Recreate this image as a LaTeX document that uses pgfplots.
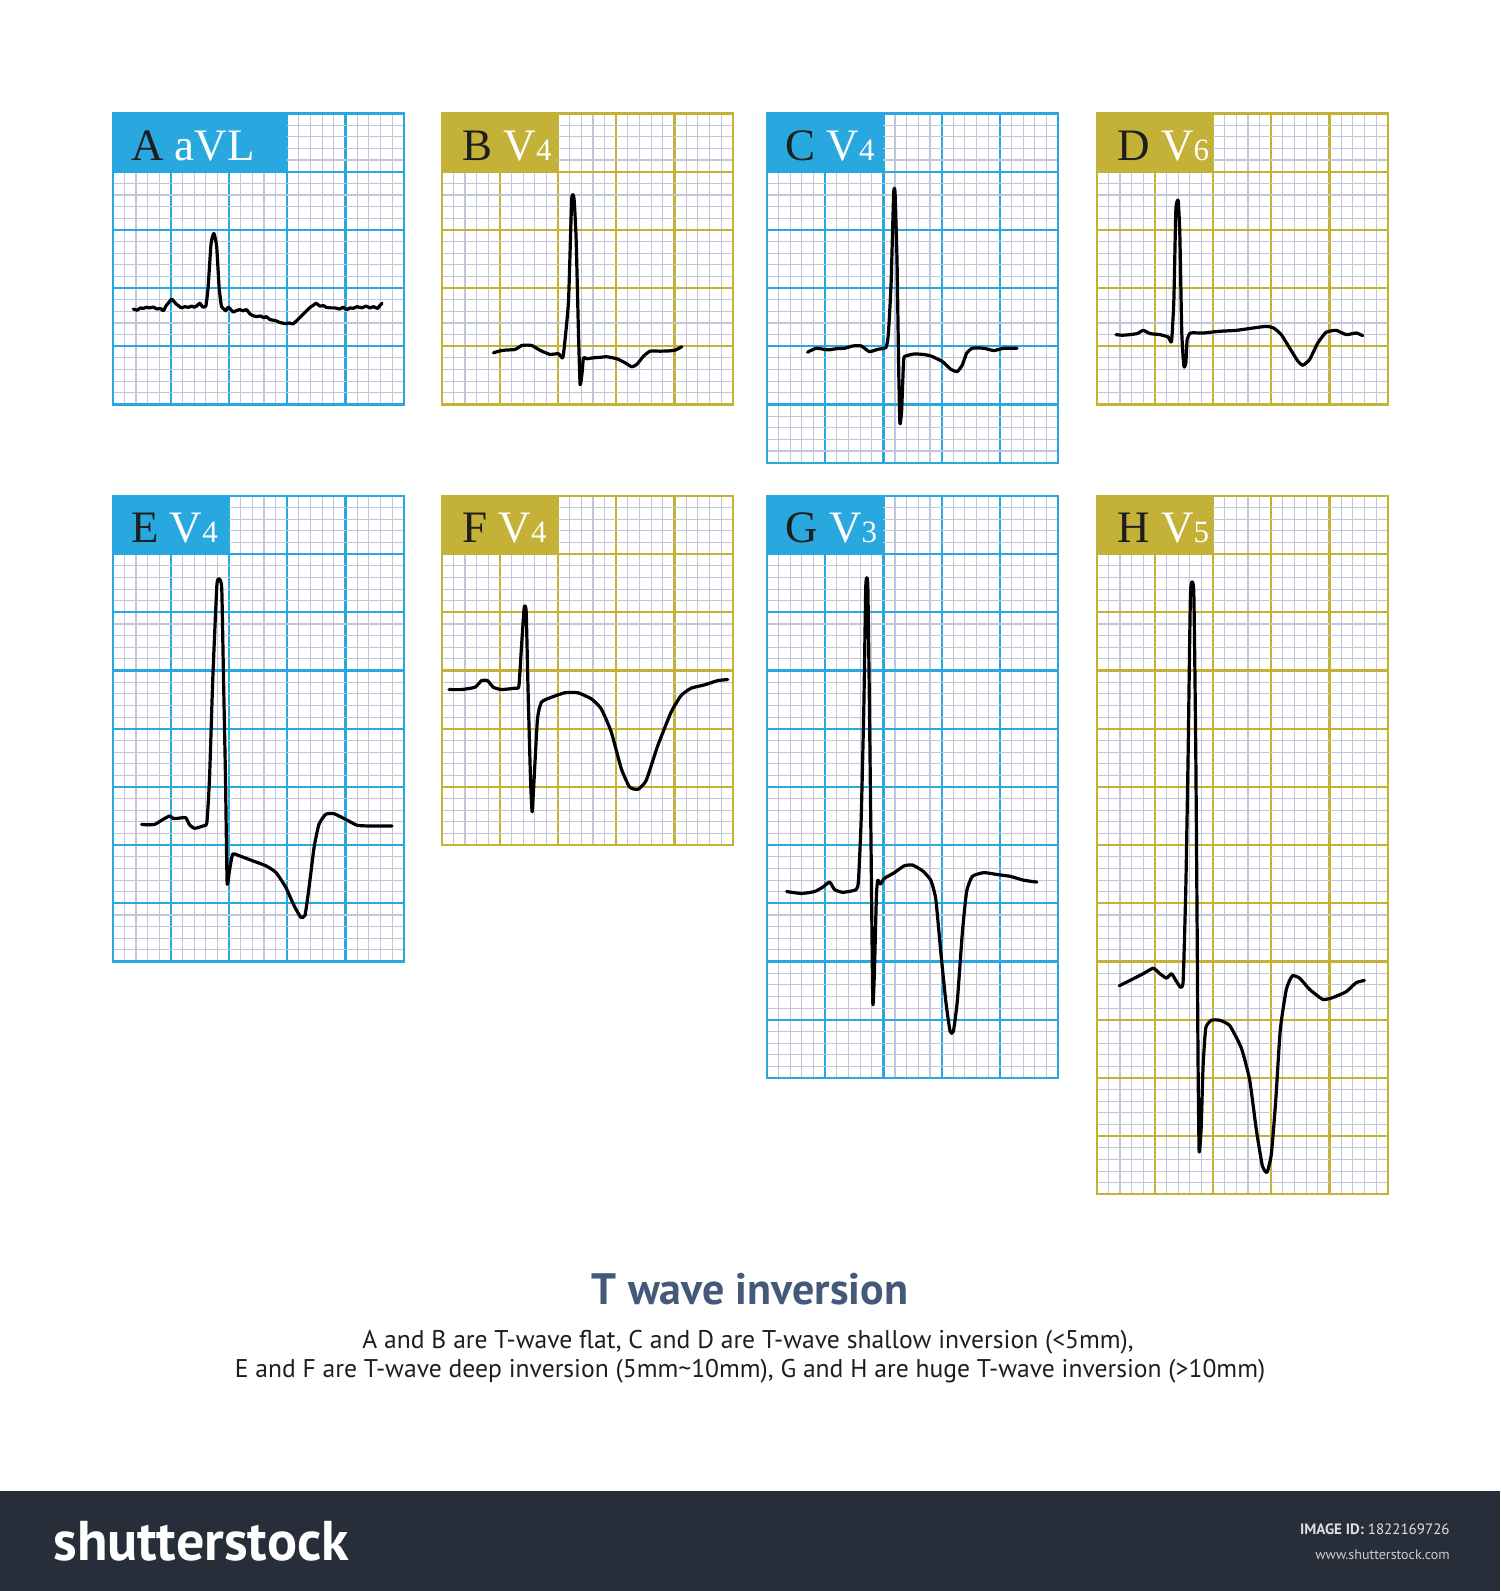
\documentclass[border=0pt]{standalone}
\usepackage{pgfplots}
\pgfplotsset{compat=1.18}
\usepackage{fontspec}
\setmainfont{PT Sans}
\newfontfamily\lserif{Liberation Serif}
\definecolor{ecgblue}{RGB}{41,168,224}
\definecolor{ecggold}{RGB}{196,177,56}
\definecolor{minorgrid}{RGB}{192,197,218}
\definecolor{titleblue}{RGB}{68,89,122}
\definecolor{footerc}{RGB}{40,46,57}
\definecolor{txt}{RGB}{30,30,30}
\pgfplotsset{
  ecgbase/.style={scale only axis, width=145.5pt, xmin=0, xmax=25, ymin=0,
    anchor=north west, xtick={0,5,10,15,20,25}, minor xtick={0,1,...,25},
    grid=both,
    minor grid style={color=minorgrid, line width=0.55pt},
    major tick length=0pt, minor tick length=0pt,
    xticklabels={}, yticklabels={}, clip=false},
  rows/.style={ymax=#1, ytick={0,5,...,#1}, minor ytick={0,1,...,#1}},
  blueecg/.style={ecgbase, major grid style={color=ecgblue, line width=1.1pt},
    axis line style={color=ecgblue, line width=1.1pt}},
  goldecg/.style={ecgbase, major grid style={color=ecggold, line width=1.1pt},
    axis line style={color=ecggold, line width=1.1pt}},
  trace/.style={black, line width=1.6pt, line join=round, line cap=round, smooth, tension=0.3},
}
\newcommand{\lab}[2]{{\lserif\fontsize{22.5pt}{22.5pt}\selectfont\color{txt}#1\ \color{white}#2}}
\newcommand{\sub}[1]{{\fontsize{15.5pt}{15.5pt}\selectfont #1}}
\begin{document}
\begin{tikzpicture}
\fill[white] (0,0) rectangle (750pt,795.5pt);
\useasboundingbox (0,0) rectangle (750pt,795.5pt);
% ---------- A
\begin{axis}[blueecg, at={(56.35pt,738.75pt)}, height=145.5pt, rows=25]
\fill[ecgblue] (axis cs:0,20) rectangle (axis cs:15,25);
\node[anchor=base west, inner sep=0] at (axis cs:1.55,21) {\lab{A}{aVL}};
\addplot[trace] coordinates {(1.77,8.2)(2.1,8.1)(2.4,8.3)(2.63,8.25)(2.9,8.35)(3.2,8.3)(3.49,8.37)(3.8,8.2)(4.1,8.25)(4.34,8.05)(4.6,8.5)(4.77,8.7)(5.06,9.05)(5.3,8.8)(5.49,8.6)(5.7,8.45)(5.91,8.3)(6.2,8.4)(6.5,8.35)(6.8,8.45)(7.0,8.35)(7.2,8.45)(7.49,8.7)(7.7,8.4)(8.0,8.45)(8.2,10.1)(8.45,13.8)(8.69,14.7)(8.93,13.6)(9.14,10.1)(9.34,8.45)(9.55,8.2)(9.71,8.05)(9.9,8.35)(10.06,8.25)(10.34,7.95)(10.6,8.05)(10.9,8.15)(11.2,8.05)(11.5,8.15)(11.77,7.8)(12.0,7.65)(12.34,7.55)(12.7,7.6)(13.0,7.45)(13.2,7.55)(13.5,7.3)(14.0,7.2)(14.34,7.05)(14.8,6.95)(15.2,7.0)(15.49,6.92)(15.8,7.2)(16.06,7.45)(16.5,7.9)(16.91,8.3)(17.2,8.5)(17.49,8.7)(17.8,8.45)(18.1,8.5)(18.34,8.35)(18.7,8.3)(19.1,8.3)(19.49,8.2)(19.8,8.35)(20.1,8.15)(20.4,8.3)(20.63,8.25)(21.0,8.4)(21.4,8.3)(21.77,8.45)(22.1,8.3)(22.4,8.4)(22.77,8.25)(22.95,8.5)(23.14,8.7)};
\end{axis}
% ---------- B
\begin{axis}[goldecg, at={(220.85pt,738.75pt)}, height=145.5pt, rows=25]
\fill[ecggold] (axis cs:0,20) rectangle (axis cs:10,25);
\node[anchor=base west, inner sep=0] at (axis cs:1.75,21) {\lab{B}{V\sub{4}}};
\addplot[trace] coordinates {(4.44,4.44)(5.0,4.6)(5.44,4.67)(6.3,4.73)(6.88,5.07)(7.3,5.1)(7.74,5.07)(8.2,4.8)(8.6,4.58)(9.31,4.3)(10.03,4.36)(10.4,4.01)(10.6,5.59)(10.9,9.0)(11.17,17.62)(11.37,17.68)(11.55,14.2)(11.75,6.16)(11.89,1.72)(12.06,2.72)(12.18,4.01)(12.46,3.93)(13.04,4.01)(13.6,4.05)(14.18,4.1)(15.04,3.93)(15.76,3.58)(16.33,3.24)(16.76,3.44)(17.34,4.15)(17.91,4.58)(18.77,4.58)(19.5,4.6)(20.06,4.67)(20.63,4.96)};
\end{axis}
% ---------- C
\begin{axis}[blueecg, at={(383.5pt,738.75pt)}, height=174.6pt, rows=30]
\fill[ecgblue] (axis cs:0,25) rectangle (axis cs:10,30);
\node[anchor=base west, inner sep=0] at (axis cs:1.55,26) {\lab{C}{V\sub{4}}};
\addplot[trace] coordinates {(3.48,9.49)(4.24,9.83)(5.24,9.69)(6.0,9.8)(6.67,9.83)(7.38,10.03)(8.09,10.03)(8.8,9.54)(9.52,9.74)(10.23,9.91)(10.43,11.11)(10.66,15.38)(10.88,23.08)(11.0,23.22)(11.17,17.38)(11.31,8.26)(11.42,3.36)(11.57,4.56)(11.74,8.83)(11.94,9.17)(12.65,9.34)(13.4,9.3)(14.07,9.17)(15.07,8.69)(15.78,8.03)(16.35,7.83)(16.78,8.4)(17.15,9.4)(17.64,9.83)(18.63,9.83)(19.49,9.63)(20.34,9.83)(21.48,9.83)};
\end{axis}
% ---------- D
\begin{axis}[goldecg, at={(548.35pt,738.75pt)}, height=145.5pt, rows=25]
\fill[ecggold] (axis cs:0,20) rectangle (axis cs:10,25);
\node[anchor=base west, inner sep=0] at (axis cs:1.75,21) {\lab{D}{V\sub{6}}};
\addplot[trace] coordinates {(1.66,6.0)(2.2,5.95)(2.86,6.0)(3.5,6.1)(4.0,6.37)(4.57,6.09)(5.43,6.0)(6.14,5.8)(6.43,5.43)(6.63,9.0)(6.8,16.71)(7.0,17.51)(7.14,14.71)(7.31,6.14)(7.49,3.29)(7.66,3.57)(7.77,5.57)(8.06,6.14)(9.14,6.14)(10.57,6.29)(12.0,6.37)(13.43,6.57)(14.57,6.71)(15.2,6.57)(15.86,6.0)(16.57,4.86)(17.29,3.71)(17.71,3.37)(18.29,3.86)(19.0,5.29)(19.71,6.2)(20.57,6.37)(21.43,6.0)(22.29,6.14)(22.86,5.91)};
\end{axis}
% ---------- E
\begin{axis}[blueecg, at={(56.35pt,547.5pt)}, height=232.8pt, rows=40]
\fill[ecgblue] (axis cs:0,35) rectangle (axis cs:10,40);
\node[anchor=base west, inner sep=0] at (axis cs:1.55,36) {\lab{E}{V\sub{4}}};
\addplot[trace] coordinates {(2.48,11.79)(3.0,11.75)(3.62,11.79)(4.33,12.22)(4.9,12.51)(5.2,12.3)(5.61,12.31)(6.27,12.36)(6.61,11.74)(7.04,11.45)(7.75,11.65)(8.09,11.94)(8.32,15.78)(8.6,24.33)(8.95,32.31)(9.17,32.88)(9.37,32.02)(9.52,24.33)(9.69,15.78)(9.83,6.81)(10.03,7.81)(10.31,9.23)(10.88,9.09)(12.02,8.66)(13.16,8.23)(14.02,7.66)(14.87,6.38)(15.58,4.81)(16.15,3.82)(16.52,3.96)(16.87,6.38)(17.3,9.8)(17.72,11.79)(18.3,12.65)(19.0,12.71)(20.0,12.22)(21.0,11.71)(22.0,11.65)(23.13,11.65)(23.99,11.65)};
\end{axis}
% ---------- F
\begin{axis}[goldecg, at={(220.85pt,547.5pt)}, height=174.6pt, rows=30]
\fill[ecggold] (axis cs:0,25) rectangle (axis cs:10,30);
\node[anchor=base west, inner sep=0] at (axis cs:1.75,26) {\lab{F}{V\sub{4}}};
\addplot[trace] coordinates {(0.63,13.37)(1.71,13.37)(2.86,13.57)(3.43,14.14)(3.94,14.14)(4.43,13.57)(5.14,13.37)(6.29,13.49)(6.63,13.66)(6.86,17.14)(7.09,20.43)(7.26,20.0)(7.43,12.86)(7.63,5.71)(7.77,2.86)(7.94,5.71)(8.23,10.86)(8.57,12.29)(9.43,12.71)(10.57,13.09)(11.71,13.09)(12.86,12.57)(13.71,11.71)(14.57,9.71)(15.43,6.57)(16.14,5.0)(16.86,4.8)(17.57,5.57)(18.57,8.57)(19.71,11.43)(20.57,12.86)(21.43,13.49)(22.57,13.77)(23.71,14.14)(24.57,14.23)};
\end{axis}
% ---------- G
\begin{axis}[blueecg, at={(383.5pt,547.5pt)}, height=291pt, rows=50]
\fill[ecgblue] (axis cs:0,45) rectangle (axis cs:10,50);
\node[anchor=base west, inner sep=0] at (axis cs:1.55,46) {\lab{G}{V\sub{3}}};
\addplot[trace] coordinates {(1.68,16.02)(2.96,15.85)(4.1,16.02)(4.81,16.41)(5.38,16.83)(5.81,16.18)(6.52,15.95)(7.66,16.18)(7.86,16.99)(8.09,22.19)(8.32,31.94)(8.49,42.33)(8.66,42.33)(8.8,31.94)(8.95,18.94)(9.09,6.43)(9.23,9.19)(9.4,15.69)(9.52,16.99)(9.74,16.67)(10.09,17.15)(10.94,17.64)(11.79,18.23)(12.51,18.29)(13.36,17.8)(14.07,16.99)(14.5,15.37)(14.93,10.82)(15.36,6.6)(15.73,4.0)(16.01,4.0)(16.35,6.6)(16.78,12.44)(17.15,16.02)(17.64,17.32)(18.63,17.64)(19.77,17.48)(20.91,17.32)(22.05,16.99)(23.19,16.83)};
\end{axis}
% ---------- H
\begin{axis}[goldecg, at={(548.35pt,547.5pt)}, height=349.2pt, rows=60]
\fill[ecggold] (axis cs:0,55) rectangle (axis cs:10,60);
\node[anchor=base west, inner sep=0] at (axis cs:1.75,56) {\lab{H}{V\sub{5}}};
\addplot[trace] coordinates {(1.94,17.92)(2.86,18.38)(4.0,18.96)(4.86,19.43)(5.43,18.96)(6.0,18.58)(6.43,18.96)(6.8,18.38)(7.2,17.8)(7.43,18.38)(7.66,26.54)(7.86,38.18)(8.06,51.77)(8.34,51.77)(8.51,38.18)(8.63,22.65)(8.71,11.01)(8.8,3.71)(8.97,5.58)(9.14,11.01)(9.37,14.3)(9.86,14.96)(10.57,14.96)(11.43,14.5)(12.43,12.56)(13.14,9.84)(13.71,5.57)(14.23,2.47)(14.63,1.89)(15.0,3.44)(15.37,7.9)(15.77,14.12)(16.29,17.61)(16.8,18.77)(17.43,18.58)(18.29,17.61)(19.43,16.75)(20.29,16.91)(21.43,17.41)(22.29,18.19)(23.0,18.38)};
\end{axis}
% ---------- texts
\node[anchor=base, inner sep=0, text=titleblue, font=\bfseries\fontsize{22pt}{22pt}\selectfont] at (375pt,143pt) {T wave inversion};
\node[anchor=base, inner sep=0, text=txt, font=\fontsize{12.8pt}{12.8pt}\selectfont] at (374pt,121pt) {A and B are T-wave flat, C and D are T-wave shallow inversion (<5mm),};
\node[anchor=base, inner sep=0, text=txt, font=\fontsize{12.8pt}{12.8pt}\selectfont] at (375pt,106.5pt) {E and F are T-wave deep inversion (5mm\textasciitilde10mm), G and H are huge T-wave inversion (>10mm)};
% ---------- footer
\fill[footerc] (0,0) rectangle (750pt,50pt);
\node[anchor=base west, inner sep=0, text=white, font=\bfseries\fontsize{28pt}{28pt}\selectfont] at (26.5pt,15pt) {shutterstock\raisebox{1.2em}{\fontsize{6pt}{6pt}\selectfont\textregistered}};
\node[anchor=base east, inner sep=0, text=white!85!footerc, font=\fontsize{7.5pt}{7.5pt}\selectfont] at (725pt,28pt) {\textbf{IMAGE ID:} 1822169726};
\node[anchor=base east, inner sep=0, text=white!75!footerc, font=\fontsize{7pt}{7pt}\selectfont] at (725pt,16pt) {www.shutterstock.com};
\end{tikzpicture}
\end{document}
